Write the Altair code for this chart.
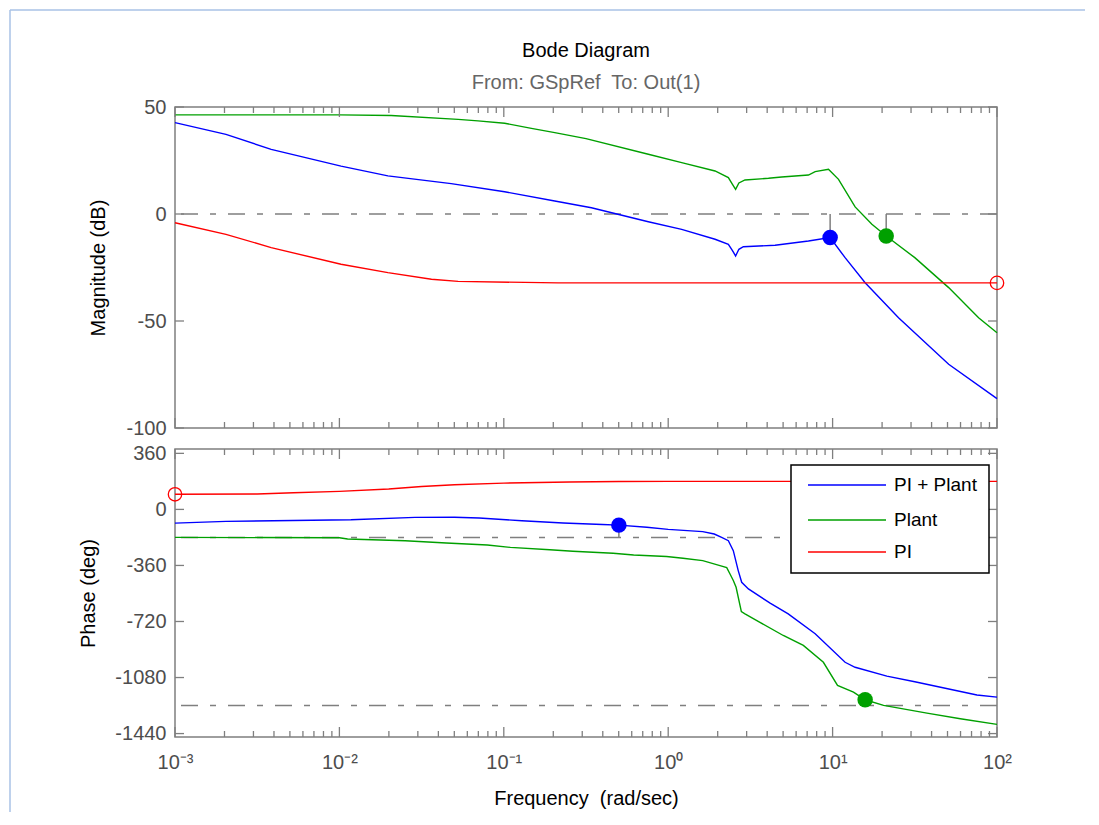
import altair as alt
import pandas as pd

# ---------------- data ----------------
SERIES = ["PI + Plant", "Plant", "PI"]
COLORS = ["#0000ff", "#00a000", "#ff0000"]

# Magnitude (dB) against log10(frequency in rad/s)
pi_plant_mag_logw = [-3.0, -2.69, -2.415, -1.99, -1.705, -1.32, -0.995, -0.69, -0.467,
                     -0.121, 0.082, 0.285, 0.366, 0.39, 0.41, 0.43, 0.457, 0.65, 0.853,
                     0.985, 1.076, 1.198, 1.401, 1.706, 2.0]
pi_plant_mag_db = [42.7, 37.2, 30.2, 22.4, 17.8, 14.2, 10.4, 6.1, 2.9,
                   -3.6, -7.2, -11.8, -14.2, -17.0, -19.6, -16.5, -15.3, -14.6, -12.6,
                   -11.0, -20.4, -32.1, -48.5, -70.2, -86.3]

plant_mag_logw = [-3.0, -2.0, -1.685, -1.278, -1.157, -0.995, -0.832, -0.69, -0.5,
                  -0.121, 0.082, 0.285, 0.366, 0.39, 0.41, 0.43, 0.467, 0.61, 0.69,
                  0.853, 0.894, 0.975, 1.036, 1.137, 1.239, 1.326, 1.5, 1.706, 1.888, 2.0]
plant_mag_db = [46.3, 46.3, 46.0, 44.2, 43.5, 42.4, 40.0, 38.0, 35.2,
                27.9, 24.0, 20.1, 17.0, 14.0, 11.5, 14.5, 15.9, 16.7, 17.3,
                18.2, 19.8, 20.9, 16.2, 3.3, -4.8, -10.3, -20.4, -34.4, -48.5, -55.5]

pi_mag_logw = [-3.0, -2.69, -2.415, -1.99, -1.705, -1.44, -1.278, -0.67, 2.0]
pi_mag_db = [-4.1, -9.5, -15.7, -23.5, -27.4, -30.5, -31.5, -32.2, -32.2]

# Phase (deg) against log10(frequency in rad/s)
pi_plant_ph_logw = [-3.0, -2.69, -1.93, -1.54, -1.3, -1.15, -0.89, -0.64, -0.40, -0.30,
                    -0.13, 0.0, 0.21, 0.28, 0.325, 0.366, 0.396, 0.426, 0.447, 0.488,
                    0.62, 0.73, 0.894, 1.076, 1.137, 1.33, 1.5, 1.878, 2.0]
pi_plant_ph_deg = [-88, -77, -66, -51, -50, -55, -73, -87, -97, -101,
                   -115, -128, -143, -158, -180, -201, -265, -393, -468, -511,
                   -602, -671, -799, -982, -1014, -1071, -1107, -1192, -1206]

plant_ph_logw = [-3.0, -2.0, -1.95, -1.6, -1.35, -1.10, -0.96, -0.72, -0.58, -0.335,
                 -0.21, -0.01, 0.09, 0.21, 0.315, 0.356, 0.376, 0.396, 0.413, 0.445,
                 0.467, 0.558, 0.70, 0.822, 0.944, 1.03, 1.127, 1.198, 1.31, 1.574,
                 1.777, 2.0]
plant_ph_deg = [-180, -182, -190, -201, -216, -229, -244, -259, -269, -282,
                -293, -303, -314, -329, -361, -374, -415, -457, -500, -657,
                -671, -725, -810, -874, -982, -1131, -1174, -1223, -1259, -1309,
                -1345, -1381]

pi_ph_logw = [-3.0, -2.5, -2.28, -2.0, -1.7, -1.5, -1.3, -1.0, -0.6, -0.3, 0.0, 2.0]
pi_ph_deg = [97, 99, 107, 116, 131, 147, 158, 169, 176, 179, 180, 180]

# Stability-margin markers
margin_series = ["PI + Plant", "Plant"]
gain_margin_logw = [0.985, 1.326]
gain_margin_db = [-11.0, -10.3]
phase_margin_logw = [-0.30, 1.198]
phase_margin_deg = [-101, -1223]
phase_margin_ref = [-180, -1260]
pi_marker_mag = [2.0, -32.2]      # hollow circle (log10 w, dB)
pi_marker_ph = [-3.0, 97]         # hollow circle (log10 w, deg)

mag_ref_lines = [0]
ph_ref_lines = [-180, -1260]

X_MAJOR = [0.001, 0.01, 0.1, 1, 10, 100]
X_LABELS = ["10⁻³", "10⁻²", "10⁻¹", "10⁰", "10¹", "10²"]
MAG_TICKS = [50, 0, -50, -100]
PH_TICKS = [360, 0, -360, -720, -1080, -1440]

# ---------------- styling ----------------
W, H_MAG, H_PH = 822, 321, 288
FONT = "Liberation Sans"
FRAME = "#7f7f7f"
LABEL = "#4d4d4d"
FS = 20
FS_LEG = 19
DASH = [17, 12, 6, 12]


def curve_df(items):
    rows = []
    for name, lw, vals in items:
        for a, b in zip(lw, vals):
            rows.append({"series": name, "w": 10 ** a, "v": b})
    return pd.DataFrame(rows)


mag_df = curve_df([("PI + Plant", pi_plant_mag_logw, pi_plant_mag_db),
                   ("Plant", plant_mag_logw, plant_mag_db),
                   ("PI", pi_mag_logw, pi_mag_db)])
ph_df = curve_df([("PI + Plant", pi_plant_ph_logw, pi_plant_ph_deg),
                  ("Plant", plant_ph_logw, plant_ph_deg),
                  ("PI", pi_ph_logw, pi_ph_deg)])

gm_df = pd.DataFrame({"series": margin_series, "w": [10 ** a for a in gain_margin_logw],
                      "v": gain_margin_db, "v2": [0, 0]})
pm_df = pd.DataFrame({"series": margin_series, "w": [10 ** a for a in phase_margin_logw],
                      "v": phase_margin_deg, "v2": phase_margin_ref})
pi_mag_mark = pd.DataFrame({"w": [10 ** pi_marker_mag[0]], "v": [pi_marker_mag[1]]})
pi_ph_mark = pd.DataFrame({"w": [10 ** pi_marker_ph[0]], "v": [pi_marker_ph[1]]})

x_minor = [k * 10 ** n for n in range(-3, 2) for k in range(2, 10)]

XSCALE = alt.Scale(type="log", domain=[1e-3, 1e2], nice=False)
COLOR = alt.Color("series:N", scale=alt.Scale(domain=SERIES, range=COLORS), legend=None)
ONE = pd.DataFrame({"a": [0]})

label_expr = "[" + ",".join("'" + s + "'" for s in X_LABELS) + "][round(log(datum.value)/LN10)+3]"
X_AXIS_BOTTOM = alt.Axis(values=X_MAJOR, labelExpr=label_expr, ticks=False, domain=False,
                         grid=False, labelFlush=False, labelPadding=15, labelFontSize=FS,
                         labelColor=LABEL, labelFont=FONT,
                         title="Frequency\u00a0 (rad/sec)", titleFont=FONT, titleFontSize=FS,
                         titleFontWeight="normal", titleColor="#000000", titlePadding=16)


def y_axis(values, title, tx, H):
    return alt.Axis(values=values, ticks=False, domain=False, grid=False, labelPadding=9,
                    labelExpr="'' + datum.value",
                    labelFontSize=FS, labelColor=LABEL, labelFont=FONT, title=title,
                    titleFont=FONT, titleFontSize=FS, titleFontWeight="normal",
                    titleColor="#000000", titleX=tx, titleY=H / 2, titleBaseline="middle",
                    titleAlign="center", titleAngle=270)


def panel(H, ydomain, yticks, ytitle, tx, xaxis, curves, refs, vlines, hollow, extra):
    ysc = alt.Scale(domain=ydomain, nice=False, zero=False)
    yax = y_axis(yticks, ytitle, tx, H)

    def X():
        return alt.X("w:Q", scale=XSCALE, axis=xaxis)

    def Y():
        return alt.Y("v:Q", scale=ysc, axis=yax)

    layers = list(extra.get("before", []))
    layers.append(alt.Chart(pd.DataFrame({"v": refs})).mark_rule(
        color=FRAME, strokeWidth=1.5, strokeDash=DASH).encode(y=Y()))
    layers.append(alt.Chart(vlines).mark_rule(color=FRAME, strokeWidth=1.5).encode(
        x=X(), y=Y(), y2="v2:Q"))
    layers.append(alt.Chart(curves).mark_line(strokeWidth=1.4).encode(
        x=X(), y=Y(), color=COLOR))
    layers.append(alt.Chart(vlines).mark_point(filled=True, size=240, opacity=1).encode(
        x=X(), y=Y(), color=COLOR))
    layers.append(alt.Chart(hollow).mark_point(filled=False, size=180, opacity=1,
                                               strokeWidth=1.3, color="#ff0000").encode(
        x=X(), y=Y()))
    # inward ticks on all four sides
    for vals, ln in ((X_MAJOR, 10), (x_minor, 6)):
        d = pd.DataFrame({"w": vals})
        layers.append(alt.Chart(d).mark_rule(color=FRAME, strokeWidth=1.3).encode(
            x=X(), y=alt.value(0), y2=alt.value(ln)))
        layers.append(alt.Chart(d).mark_rule(color=FRAME, strokeWidth=1.3).encode(
            x=X(), y=alt.value(H), y2=alt.value(H - ln)))
    d = pd.DataFrame({"v": yticks})
    layers.append(alt.Chart(d).mark_rule(color=FRAME, strokeWidth=1.3).encode(
        y=Y(), x=alt.value(0), x2=alt.value(9)))
    layers.append(alt.Chart(d).mark_rule(color=FRAME, strokeWidth=1.3).encode(
        y=Y(), x=alt.value(W), x2=alt.value(W - 9)))
    layers += extra.get("after", [])
    return alt.layer(*layers).properties(width=W, height=H)


# window frame + titles (drawn in the magnitude panel, pixel offsets from its plot area)
BORDER = "#a9c2e6"
top_before = [
    alt.Chart(ONE).mark_rule(color=BORDER, strokeWidth=1.5).encode(
        x=alt.value(-165), x2=alt.value(910), y=alt.value(-97)),
    alt.Chart(ONE).mark_rule(color=BORDER, strokeWidth=1.5).encode(
        x=alt.value(-165), y=alt.value(-97), y2=alt.value(705)),
]
top_after = [
    alt.Chart(ONE).mark_text(text="Bode Diagram", font=FONT, fontSize=FS, color="#000000",
                             align="center", baseline="middle").encode(
        x=alt.value(W / 2), y=alt.value(-56)),
    alt.Chart(ONE).mark_text(text="From: GSpRef\u00a0 To: Out(1)", font=FONT, fontSize=FS,
                             color="#666666", align="center", baseline="middle").encode(
        x=alt.value(W / 2), y=alt.value(-24)),
]

# legend box inside the phase panel
LEG_X0, LEG_X1, LEG_Y0, LEG_Y1 = 616, 814, 16, 124
leg_rows = [36, 71, 103]
bottom_after = [
    alt.Chart(ONE).mark_rect(fill="#ffffff", stroke="#000000", strokeWidth=1.5).encode(
        x=alt.value(LEG_X0), x2=alt.value(LEG_X1), y=alt.value(LEG_Y0), y2=alt.value(LEG_Y1)),
]
for name, col, ry in zip(SERIES, COLORS, leg_rows):
    bottom_after.append(alt.Chart(ONE).mark_rule(color=col, strokeWidth=1.5).encode(
        x=alt.value(633), x2=alt.value(711), y=alt.value(ry)))
    bottom_after.append(alt.Chart(ONE).mark_text(text=name, font=FONT, fontSize=FS_LEG,
                                                 color="#000000", align="left",
                                                 baseline="middle").encode(
        x=alt.value(719), y=alt.value(ry)))

top = panel(H_MAG, [-100, 50], MAG_TICKS, "Magnitude (dB)", -77, None, mag_df,
            mag_ref_lines, gm_df, pi_mag_mark, {"before": top_before, "after": top_after})
bottom = panel(H_PH, [-1462, 388], PH_TICKS, "Phase (deg)", -87, X_AXIS_BOTTOM, ph_df,
               ph_ref_lines, pm_df, pi_ph_mark, {"after": bottom_after})

chart = alt.vconcat(top, bottom, spacing=21, bounds="flush").properties(
    padding=0, background="#ffffff"
).configure_view(stroke=FRAME, strokeWidth=1.5).configure_text(font=FONT)

chart.save("out.html", embed_options={"renderer": "svg", "actions": False})
